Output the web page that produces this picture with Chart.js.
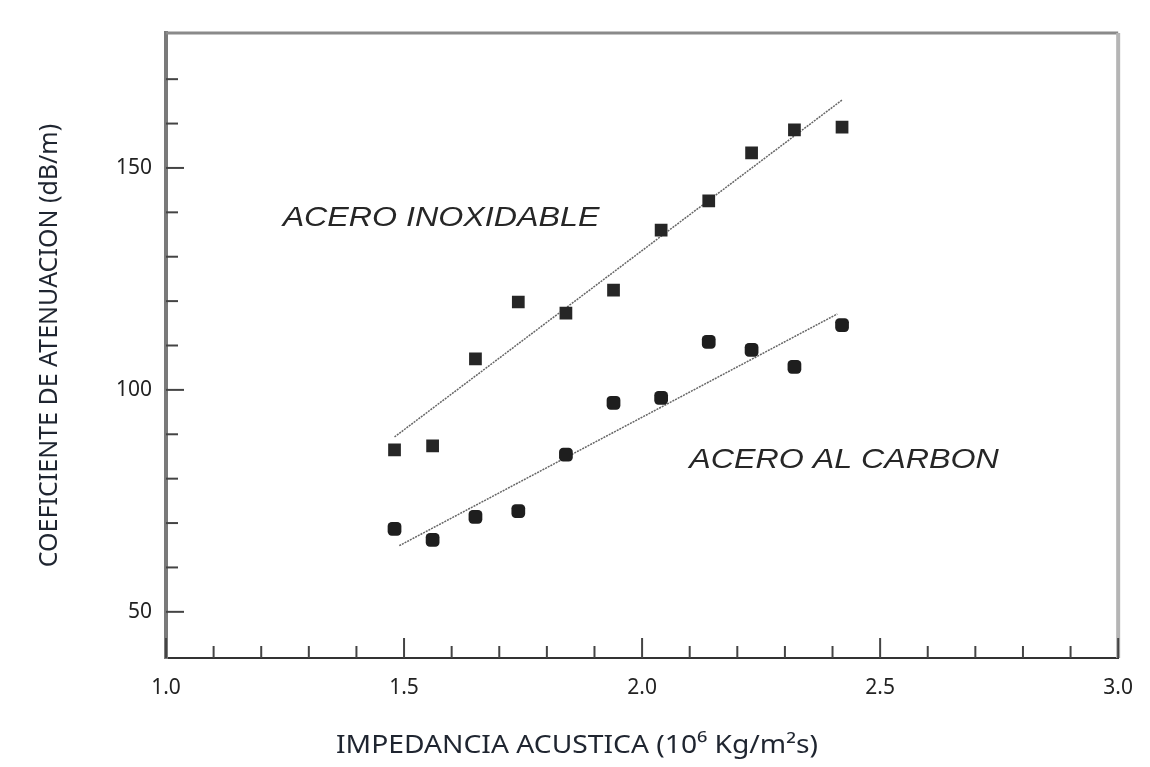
<!DOCTYPE html>
<html>
<head>
<meta charset="utf-8">
<script src="https://cdn.jsdelivr.net/npm/chart.js@4.4.1/dist/chart.umd.min.js"></script>
<style>
  html, body { margin: 0; padding: 0; background: #fff; }
  #chart { display: block; }
</style>
</head>
<body>
<canvas id="chart" width="1150" height="767"></canvas>
<script>
// impedance values (10^6 Kg/m2s), same for both steels
const impedance = [1.48, 1.56, 1.65, 1.74, 1.84, 1.94, 2.04, 2.14, 2.23, 2.32, 2.42];

// attenuation (dB/m)
const inoxValues = [86.5, 87.4, 107, 119.8, 117.3, 122.5, 136, 142.6, 153.4, 158.6, 159.2];
const carbonValues = [68.7, 66.2, 71.4, 72.7, 85.4, 97.1, 98.2, 110.8, 109, 105.2, 114.6];

// fitted lines, end points
const inoxFitX = [1.48, 2.42];
const inoxFitY = [89.4, 165.3];
const carbonFitX = [1.49, 2.41];
const carbonFitY = [64.9, 117.1];

const xTickLabels = ["1.0", "1.5", "2.0", "2.5", "3.0"];
const yTickLabels = ["50", "100", "150"];

const seriesNames = ["ACERO INOXIDABLE", "ACERO AL CARBON"];
const xTitle = "IMPEDANCIA ACUSTICA (10\u2076 Kg/m\u00b2s)";

function toPoints(xs, ys) {
  return xs.map((x, i) => ({ x: x, y: ys[i] }));
}

const darkInk = "#222";
const labelFont = "'Noto Sans', 'Open Sans', sans-serif";

// frame, inward ticks, series names and the x title (centred on the page)
const framePlugin = {
  id: "frame",
  afterDraw(chart) {
    const ctx = chart.ctx;
    const a = chart.chartArea;
    const xs = chart.scales.x;
    const ys = chart.scales.y;
    ctx.save();

    ctx.strokeStyle = "#8a8a8a";
    ctx.lineWidth = 3;
    ctx.beginPath();
    ctx.moveTo(a.left, a.top);
    ctx.lineTo(a.right, a.top);
    ctx.stroke();
    ctx.strokeStyle = "#b5b5b5";
    ctx.lineWidth = 4;
    ctx.beginPath();
    ctx.moveTo(a.right, a.top);
    ctx.lineTo(a.right, a.bottom);
    ctx.stroke();

    ctx.strokeStyle = "#444";
    ctx.lineWidth = 2;
    for (let i = 0; i <= 20; i++) {
      const v = 1 + i / 10;
      const px = xs.getPixelForValue(v);
      const len = i % 5 === 0 ? 20 : 12;
      ctx.beginPath();
      ctx.moveTo(px, a.bottom);
      ctx.lineTo(px, a.bottom - len);
      ctx.stroke();
    }
    for (let v = 50; v <= 170; v += 10) {
      const py = ys.getPixelForValue(v);
      const len = v % 50 === 0 ? 18 : 12;
      ctx.beginPath();
      ctx.moveTo(a.left, py);
      ctx.lineTo(a.left + len, py);
      ctx.stroke();
    }

    // the names are set in a wide italic face, so stretch them a bit
    ctx.fillStyle = "#262626";
    ctx.font = "italic 28px 'Liberation Sans', Arial, sans-serif";
    ctx.textBaseline = "middle";
    ctx.textAlign = "left";
    const names = [[seriesNames[0], 1.245, 138.7], [seriesNames[1], 2.099, 84.2]];
    names.forEach(n => {
      ctx.save();
      ctx.translate(xs.getPixelForValue(n[1]), ys.getPixelForValue(n[2]));
      ctx.scale(1.15, 1);
      ctx.fillText(n[0], 0, 0);
      ctx.restore();
    });

    ctx.fillStyle = "#1f2530";
    ctx.font = "25px " + labelFont;
    ctx.textAlign = "center";
    ctx.save();
    ctx.translate(chart.width / 2 + 2, 746);
    ctx.scale(1.13, 1);
    ctx.fillText(xTitle, 0, 0);
    ctx.restore();

    ctx.restore();
  }
};

new Chart("chart", {
  type: "scatter",
  data: {
    datasets: [
      {
        label: seriesNames[0],
        data: toPoints(impedance, inoxValues),
        pointStyle: "rect",
        pointRadius: 9,
        backgroundColor: "#262626",
        borderColor: "#262626",
        borderWidth: 0
      },
      {
        label: seriesNames[1],
        data: toPoints(impedance, carbonValues),
        pointStyle: "rectRounded",
        pointRadius: 8,
        backgroundColor: "#1e1e1e",
        borderColor: "#1e1e1e",
        borderWidth: 0
      },
      {
        label: "fit inox",
        type: "line",
        data: toPoints(inoxFitX, inoxFitY),
        borderColor: "#666",
        borderWidth: 1.5,
        borderDash: [2, 1],
        pointRadius: 0,
        fill: false
      },
      {
        label: "fit carbon",
        type: "line",
        data: toPoints(carbonFitX, carbonFitY),
        borderColor: "#666",
        borderWidth: 1.5,
        borderDash: [2, 1],
        pointRadius: 0,
        fill: false
      }
    ]
  },
  options: {
    responsive: false,
    animation: false,
    layout: { padding: { left: 35, top: 33, right: 30, bottom: 9 } },
    plugins: {
      legend: { display: false },
      tooltip: { enabled: false }
    },
    scales: {
      x: {
        type: "linear",
        min: 1,
        max: 3,
        afterFit: (scale) => { scale.height = 100; },
        afterBuildTicks: (scale) => {
          scale.ticks = xTickLabels.map(t => ({ value: parseFloat(t) }));
        },
        ticks: {
          padding: 17,
          autoSkip: false,
          maxRotation: 0,
          color: darkInk,
          font: { family: labelFont, size: 21 },
          callback: (v) => Number(v).toFixed(1)
        },
        grid: { display: true, drawOnChartArea: false, drawTicks: false },
        border: { display: true, color: "#333", width: 2 },
        title: { display: false }
      },
      y: {
        type: "linear",
        min: 39.6,
        max: 180.4,
        afterFit: (scale) => { scale.width = 131; },
        afterBuildTicks: (scale) => {
          scale.ticks = yTickLabels.map(t => ({ value: parseFloat(t) }));
        },
        ticks: {
          padding: 14,
          color: darkInk,
          font: { family: labelFont, size: 21 },
          callback: (v) => String(v)
        },
        grid: { display: true, drawOnChartArea: false, drawTicks: false },
        border: { display: true, color: "#7a7a7a", width: 4 },
        title: {
          display: true,
          text: "COEFICIENTE DE ATENUACION (dB/m)",
          color: "#1f2530",
          font: { family: labelFont, size: 25 },
          padding: 0
        }
      }
    }
  },
  plugins: [framePlugin]
});
</script>
</body>
</html>
